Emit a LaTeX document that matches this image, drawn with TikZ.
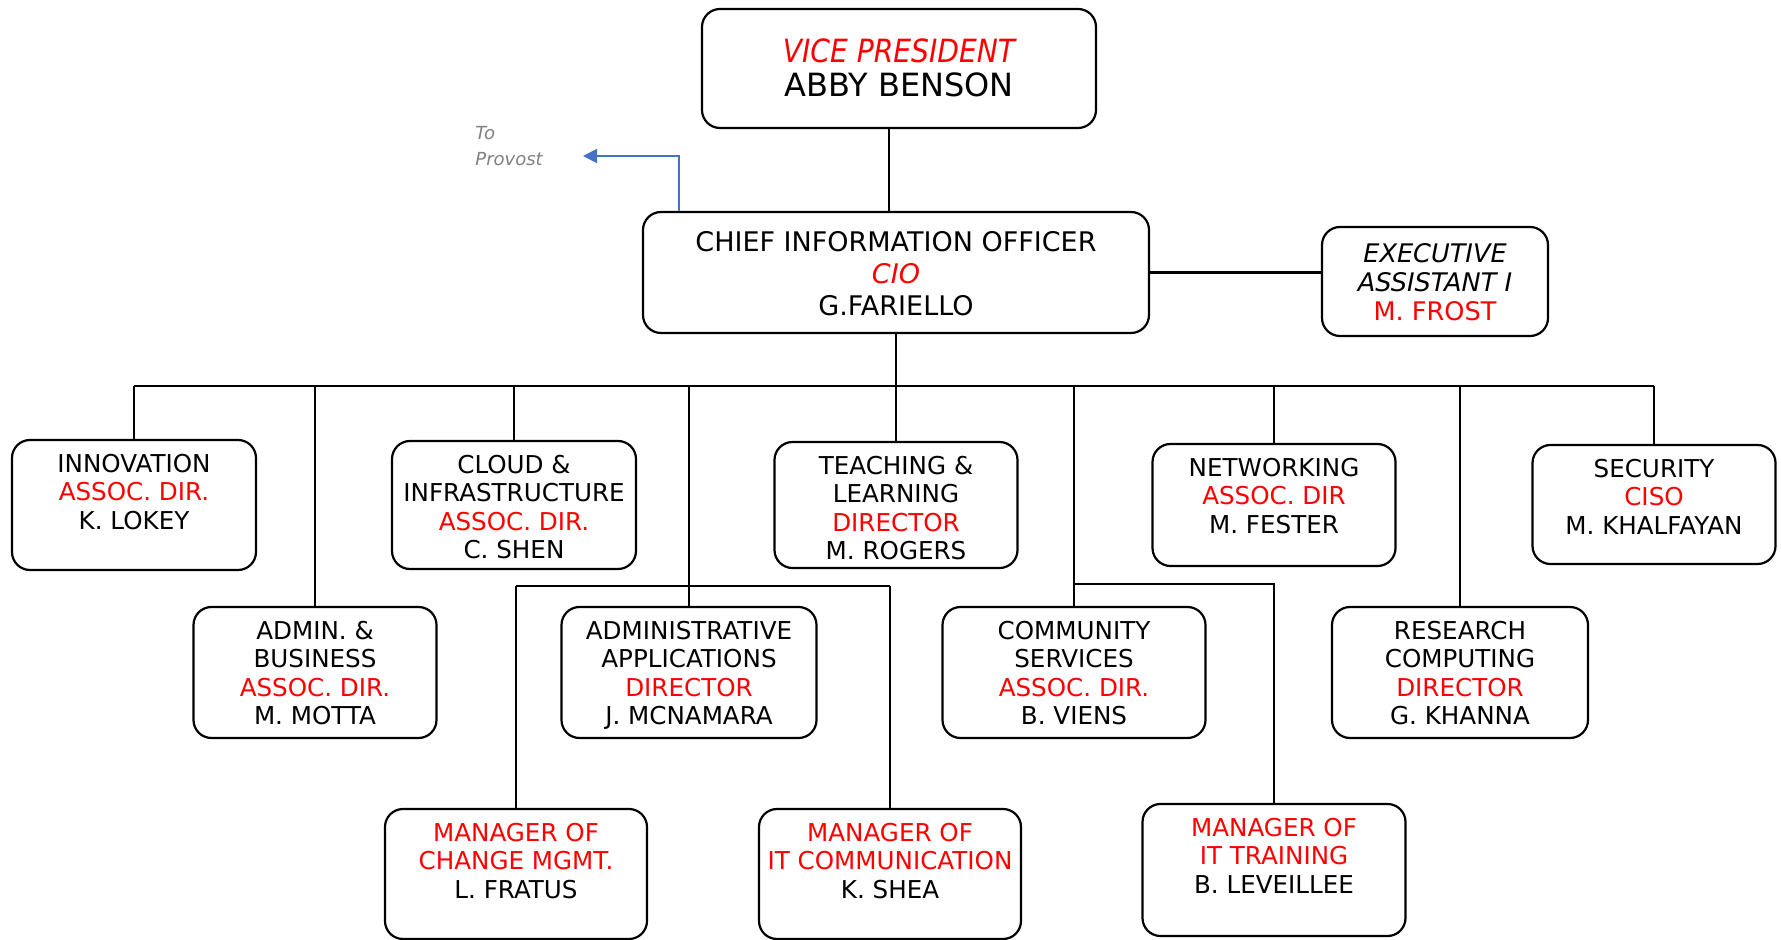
\documentclass[tikz,border=0pt]{standalone}
\usepackage{fontspec}
\setmainfont{DejaVu Sans}
\usetikzlibrary{arrows.meta}
\definecolor{arrowblue}{HTML}{4472C4}
\definecolor{provgray}{HTML}{808080}
\newcommand{\rd}[1]{\textcolor{red}{#1}}
\tikzset{
  box/.style={draw, line width=1.1pt, rounded corners=9pt, inner sep=0pt},
  smalltxt/.style={anchor=north, inner sep=0pt, align=center, font=\fontsize{12.3}{14.25}\selectfont},
  ciotxt/.style={anchor=north, inner sep=0pt, align=center, font=\fontsize{13.5}{16}\selectfont},
  vptxt/.style={anchor=north, inner sep=0pt, align=center, font=\fontsize{16}{17}\selectfont},
  exectxt/.style={anchor=north, inner sep=0pt, align=center, font=\fontsize{12.8}{14.5}\selectfont},
  conn/.style={line width=0.9pt},
  busline/.style={line width=1.3pt},
}
\begin{document}
\begin{tikzpicture}[x=0.5pt, y=-0.5pt]
\useasboundingbox (0,0) rectangle (1781,940);
% boxes
\node[box, minimum width=197pt, minimum height=59.5pt] (vp) at (899,68.5) {};
\node[box, minimum width=253pt, minimum height=60.5pt] (cio) at (896,272.5) {};
\node[box, minimum width=113pt, minimum height=54.5pt] (exec) at (1435,281.5) {};
\node[box, minimum width=122pt, minimum height=65pt] (innov) at (134,505) {};
\node[box, minimum width=122pt, minimum height=64pt] (cloud) at (514,505) {};
\node[box, minimum width=121.5pt, minimum height=63pt] (teach) at (896,505) {};
\node[box, minimum width=121.5pt, minimum height=61pt] (netw) at (1274,505) {};
\node[box, minimum width=121.5pt, minimum height=59.5pt] (secu) at (1654,504.5) {};
\node[box, minimum width=121.5pt, minimum height=65.5pt] (admin) at (315,672.5) {};
\node[box, minimum width=127.5pt, minimum height=65.5pt] (apps) at (689,672.5) {};
\node[box, minimum width=131.5pt, minimum height=65.5pt] (comm) at (1074,672.5) {};
\node[box, minimum width=128pt, minimum height=65.5pt] (res) at (1460,672.5) {};
\node[box, minimum width=131pt, minimum height=65pt] (mchg) at (516,874) {};
\node[box, minimum width=131pt, minimum height=65pt] (mcomm) at (890,874) {};
\node[box, minimum width=131.5pt, minimum height=66pt] (mtrain) at (1274,870) {};
% texts
\node[vptxt] (vpT) at ([yshift=-15pt]vp.north) {\strut\rd{\itshape\scalebox{0.88}[1]{VICE PRESIDENT}}\\ABBY BENSON};
\node[ciotxt] (cioT) at ([yshift=-9pt]cio.north) {\strut CHIEF INFORMATION OFFICER\\\rd{\itshape CIO}\\G.FARIELLO};
\node[exectxt] (execT) at ([yshift=-8pt]exec.north) {\strut\itshape EXECUTIVE\\\itshape ASSISTANT I\\\rd{M. FROST}};
\node[smalltxt] (innovT) at ([yshift=-6.5pt]innov.north) {\strut INNOVATION\\\rd{ASSOC. DIR.}\\K. LOKEY};
\node[smalltxt] (cloudT) at ([yshift=-6.5pt]cloud.north) {\strut CLOUD \&\\INFRASTRUCTURE\\\rd{ASSOC. DIR.}\\C. SHEN};
\node[smalltxt] (teachT) at ([yshift=-6.5pt]teach.north) {\strut TEACHING \&\\LEARNING\\\rd{DIRECTOR}\\M. ROGERS};
\node[smalltxt] (netwT) at ([yshift=-6.5pt]netw.north) {\strut NETWORKING\\\rd{ASSOC. DIR}\\M. FESTER};
\node[smalltxt] (secuT) at ([yshift=-6.5pt]secu.north) {\strut SECURITY\\\rd{CISO}\\M. KHALFAYAN};
\node[smalltxt] (adminT) at ([yshift=-6.5pt]admin.north) {\strut ADMIN. \&\\BUSINESS\\\rd{ASSOC. DIR.}\\M. MOTTA};
\node[smalltxt] (appsT) at ([yshift=-6.5pt]apps.north) {\strut ADMINISTRATIVE\\APPLICATIONS\\\rd{DIRECTOR}\\J. MCNAMARA};
\node[smalltxt] (commT) at ([yshift=-6.5pt]comm.north) {\strut COMMUNITY\\SERVICES\\\rd{ASSOC. DIR.}\\B. VIENS};
\node[smalltxt] (resT) at ([yshift=-6.5pt]res.north) {\strut RESEARCH\\COMPUTING\\\rd{DIRECTOR}\\G. KHANNA};
\node[smalltxt] (mchgT) at ([yshift=-6.5pt]mchg.north) {\strut\rd{MANAGER OF}\\\rd{CHANGE MGMT.}\\L. FRATUS};
\node[smalltxt] (mcommT) at ([yshift=-6.5pt]mcomm.north) {\strut\rd{MANAGER OF}\\\rd{IT COMMUNICATION}\\K. SHEA};
\node[smalltxt] (mtrainT) at ([yshift=-6.5pt]mtrain.north) {\strut\rd{MANAGER OF}\\\rd{IT TRAINING}\\B. LEVEILLEE};
\node[anchor=north west, inner sep=0pt, align=left, text=provgray, font=\fontsize{9}{13}\selectfont\itshape] (prov) at (475,121) {\strut To\\Provost};
% coordinates
\coordinate (vpx) at (889,0);
\coordinate (arrx) at (679,0);
\coordinate (provtip) at (583,156);
\coordinate (busL) at (134,386);
\coordinate (busR) at (1654,386);
\coordinate (appsJ) at (689,586);
\coordinate (commJ) at (1074,584);
% connectors
\draw[conn] (vp.south -| vpx) -- (cio.north -| vpx);
\draw[conn, arrowblue, -{Triangle[length=7pt,width=7pt]}] (cio.north -| arrx) |- (provtip);
\draw[busline] (cio.east) -- (cio.east -| exec.west);
\draw[busline] (cio.south) -- (cio.south |- busL);
\draw[busline] (busL) -- (busR);
\foreach \n in {innov,cloud,teach,netw,secu,admin,apps,comm,res}
  \draw[conn] (\n.north |- busL) -- (\n.north);
\draw[conn] (mchg.north |- appsJ) -- (mcomm.north |- appsJ);
\draw[conn] (mchg.north |- appsJ) -- (mchg.north);
\draw[conn] (mcomm.north |- appsJ) -- (mcomm.north);
\draw[conn] (commJ) -- (mtrain.north |- commJ) -- (mtrain.north);
\end{tikzpicture}
\end{document}
